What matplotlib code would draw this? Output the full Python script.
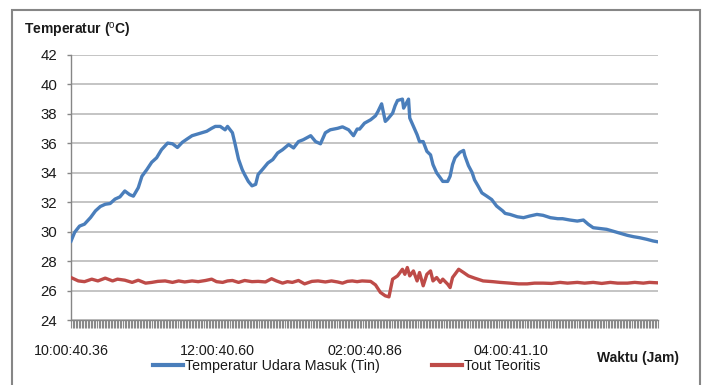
#!/usr/bin/env python3
"""
Inlet air temperature log vs. theoretical outlet temperature.

Plots the measured inlet temperature (Tin) and the theoretical outlet
temperature (Tout) over an 8 hour run and saves the chart to out.png.
"""

import matplotlib
matplotlib.use("Agg")
import matplotlib.pyplot as plt
from matplotlib.patches import Rectangle
from matplotlib.ticker import MultipleLocator, FixedLocator

# elapsed minutes since 10:00:40.36 and the logged values
tin_minutes = [
    0, 3, 7, 11, 16, 20, 24, 28, 32, 36, 40, 44, 48, 51, 55, 58, 62, 66, 70, 74,
    79, 83, 87, 91, 95, 99, 103, 107, 111, 115, 118, 122, 126, 128, 132, 134, 137,
    140, 142, 145, 148, 151, 153, 157, 161, 165, 169, 173, 178, 182, 186, 190, 196,
    200, 204, 208, 212, 218, 222, 227, 231, 234, 236, 240, 245, 249, 251, 254, 257,
    259, 263, 265, 267, 271, 272, 276, 277, 280, 283, 285, 288, 291, 294, 296, 299,
    302, 304, 308, 310, 312, 314, 318, 321, 322, 325, 328, 330, 333, 336, 340, 344,
    348, 353, 355, 359, 365, 370, 375, 381, 386, 392, 398, 402, 408, 414, 419, 423,
    427, 433, 438, 443, 449, 455, 460, 465, 471, 476, 480,
]
tin_values = [
    29.35, 29.95, 30.37, 30.5, 30.95, 31.4, 31.7, 31.85, 31.9, 32.2, 32.35, 32.75,
    32.5, 32.4, 32.97, 33.75, 34.2, 34.7, 35.0, 35.55, 36.0, 35.95, 35.7, 36.05,
    36.28, 36.5, 36.6, 36.7, 36.8, 37.0, 37.13, 37.13, 36.9, 37.13, 36.7, 36.0,
    34.9, 34.2, 33.86, 33.4, 33.1, 33.2, 33.87, 34.25, 34.65, 34.88, 35.33, 35.55,
    35.9, 35.67, 36.1, 36.23, 36.5, 36.1, 35.95, 36.7, 36.9, 37.0, 37.1, 36.9, 36.5,
    36.95, 36.95, 37.35, 37.58, 37.85, 38.14, 38.66, 37.47, 37.63, 38.03, 38.53,
    38.89, 38.98, 38.37, 38.98, 37.7, 37.13, 36.57, 36.1, 36.1, 35.44, 35.2, 34.54,
    33.98, 33.64, 33.4, 33.4, 33.75, 34.54, 35.0, 35.37, 35.5, 35.15, 34.47, 34.0,
    33.5, 33.07, 32.62, 32.4, 32.17, 31.73, 31.4, 31.23, 31.16, 31.0, 30.94, 31.05,
    31.16, 31.1, 30.94, 30.87, 30.87, 30.78, 30.71, 30.78, 30.49, 30.26, 30.2,
    30.15, 30.03, 29.88, 29.74, 29.65, 29.58, 29.47, 29.36, 29.3,
]

tout_minutes = [
    0, 6, 11, 17, 22, 28, 34, 38, 44, 50, 55, 61, 66, 71, 77, 83, 88, 93, 99, 104,
    110, 115, 119, 124, 128, 132, 137, 142, 148, 153, 159, 164, 168, 173, 177, 181,
    186, 191, 197, 202, 208, 213, 218, 222, 226, 230, 234, 238, 245, 249, 253, 257,
    260, 263, 267, 271, 273, 275, 277, 280, 283, 285, 288, 291, 294, 296, 299, 302,
    304, 308, 310, 312, 317, 321, 325, 330, 337, 345, 351, 359, 366, 373, 379, 386,
    393, 400, 406, 414, 420, 427, 434, 441, 447, 455, 461, 468, 473, 480,
]
tout_values = [
    26.88, 26.65, 26.6, 26.77, 26.65, 26.84, 26.65, 26.77, 26.7, 26.55, 26.7, 26.5,
    26.55, 26.62, 26.65, 26.55, 26.65, 26.58, 26.65, 26.6, 26.68, 26.77, 26.6,
    26.55, 26.65, 26.68, 26.55, 26.68, 26.6, 26.62, 26.58, 26.8, 26.65, 26.5, 26.6,
    26.55, 26.68, 26.45, 26.62, 26.65, 26.58, 26.65, 26.58, 26.5, 26.62, 26.65,
    26.6, 26.65, 26.62, 26.38, 25.87, 25.64, 25.57, 26.77, 26.99, 27.44, 27.1,
    27.56, 26.99, 27.33, 26.65, 27.22, 26.32, 27.1, 27.33, 26.65, 26.88, 26.55,
    26.77, 26.43, 26.2, 26.88, 27.44, 27.22, 26.99, 26.84, 26.65, 26.6, 26.55, 26.5,
    26.45, 26.45, 26.5, 26.5, 26.48, 26.55, 26.5, 26.55, 26.5, 26.55, 26.48, 26.55,
    26.5, 26.5, 26.55, 26.5, 26.55, 26.52,
]

label_minutes = [0, 120, 240, 360]
time_labels = ["10:00:40.36", "12:00:40.60", "02:00:40.86", "04:00:41.10"]
y_ticks = list(range(24, 43, 2))

BLUE = "#4a7ebb"
RED = "#be4b48"
GRID = "#bfbfbf"
AXIS = "#868686"
TEXT = "#1a1a1a"

plt.rcParams["font.family"] = ["Liberation Sans", "DejaVu Sans"]
plt.rcParams["mathtext.fontset"] = "custom"
plt.rcParams["mathtext.rm"] = "Liberation Sans"
plt.rcParams["mathtext.bf"] = "Liberation Sans:bold"

W, H = 704, 385
fig = plt.figure(figsize=(W / 100, H / 100), dpi=100)


def fx(px):
    return px / W


def fy(py):
    return 1 - py / H


# plot area in pixel terms: x 71..658, y 54.6..320
ax = fig.add_axes([fx(71), fy(320), fx(658 - 71), (320 - 54.6) / H])

ax.plot(tin_minutes, tin_values, color=BLUE, lw=2.4, solid_joinstyle="round",
        label="Temperatur Udara Masuk (Tin)", zorder=3)
ax.plot(tout_minutes, tout_values, color=RED, lw=2.4, solid_joinstyle="round",
        label="Tout Teoritis", zorder=3)

ax.set_xlim(0, 480)
ax.set_ylim(24, 42)
ax.set_yticks(y_ticks)
ax.yaxis.grid(True, color=GRID, lw=1.3)
ax.set_axisbelow(True)

ax.xaxis.set_major_locator(FixedLocator(label_minutes))
ax.set_xticklabels(time_labels)
ax.xaxis.set_minor_locator(MultipleLocator(1.25))

for side in ("top", "right"):
    ax.spines[side].set_visible(False)
for side in ("left", "bottom"):
    ax.spines[side].set_color(AXIS)
    ax.spines[side].set_linewidth(1.0)

ax.tick_params(axis="x", which="both", direction="out", length=6, width=0.8,
               color="#8a8a8a", labelsize=10.3, labelcolor=TEXT, pad=11)
ax.tick_params(axis="y", direction="out", length=3, width=1.0, color=AXIS,
               labelsize=10.8, labelcolor=TEXT, pad=7)

fig.text(fx(24), fy(30), r"Temperatur ($^{\mathrm{o}}$C)", fontsize=10,
         fontweight="bold", color=TEXT, ha="left", va="center")
fig.text(fx(597), fy(358), "Waktu (Jam)", fontsize=10, fontweight="bold",
         color=TEXT, ha="left", va="center")

leg = fig.legend(loc="center left", bbox_to_anchor=(fx(146), fy(366)),
                 ncol=2, frameon=False, fontsize=10.3, handlelength=2.1,
                 handletextpad=0.1, columnspacing=3.7, borderpad=0,
                 labelcolor=TEXT)
for line in leg.get_lines():
    line.set_linewidth(3)

# chart frame
fig.patches.append(Rectangle((fx(12), -0.05), fx(700 - 12), fy(10) + 0.05,
                             transform=fig.transFigure, fill=False,
                             edgecolor=AXIS, lw=1.5))

fig.savefig("out.png", dpi=100)
